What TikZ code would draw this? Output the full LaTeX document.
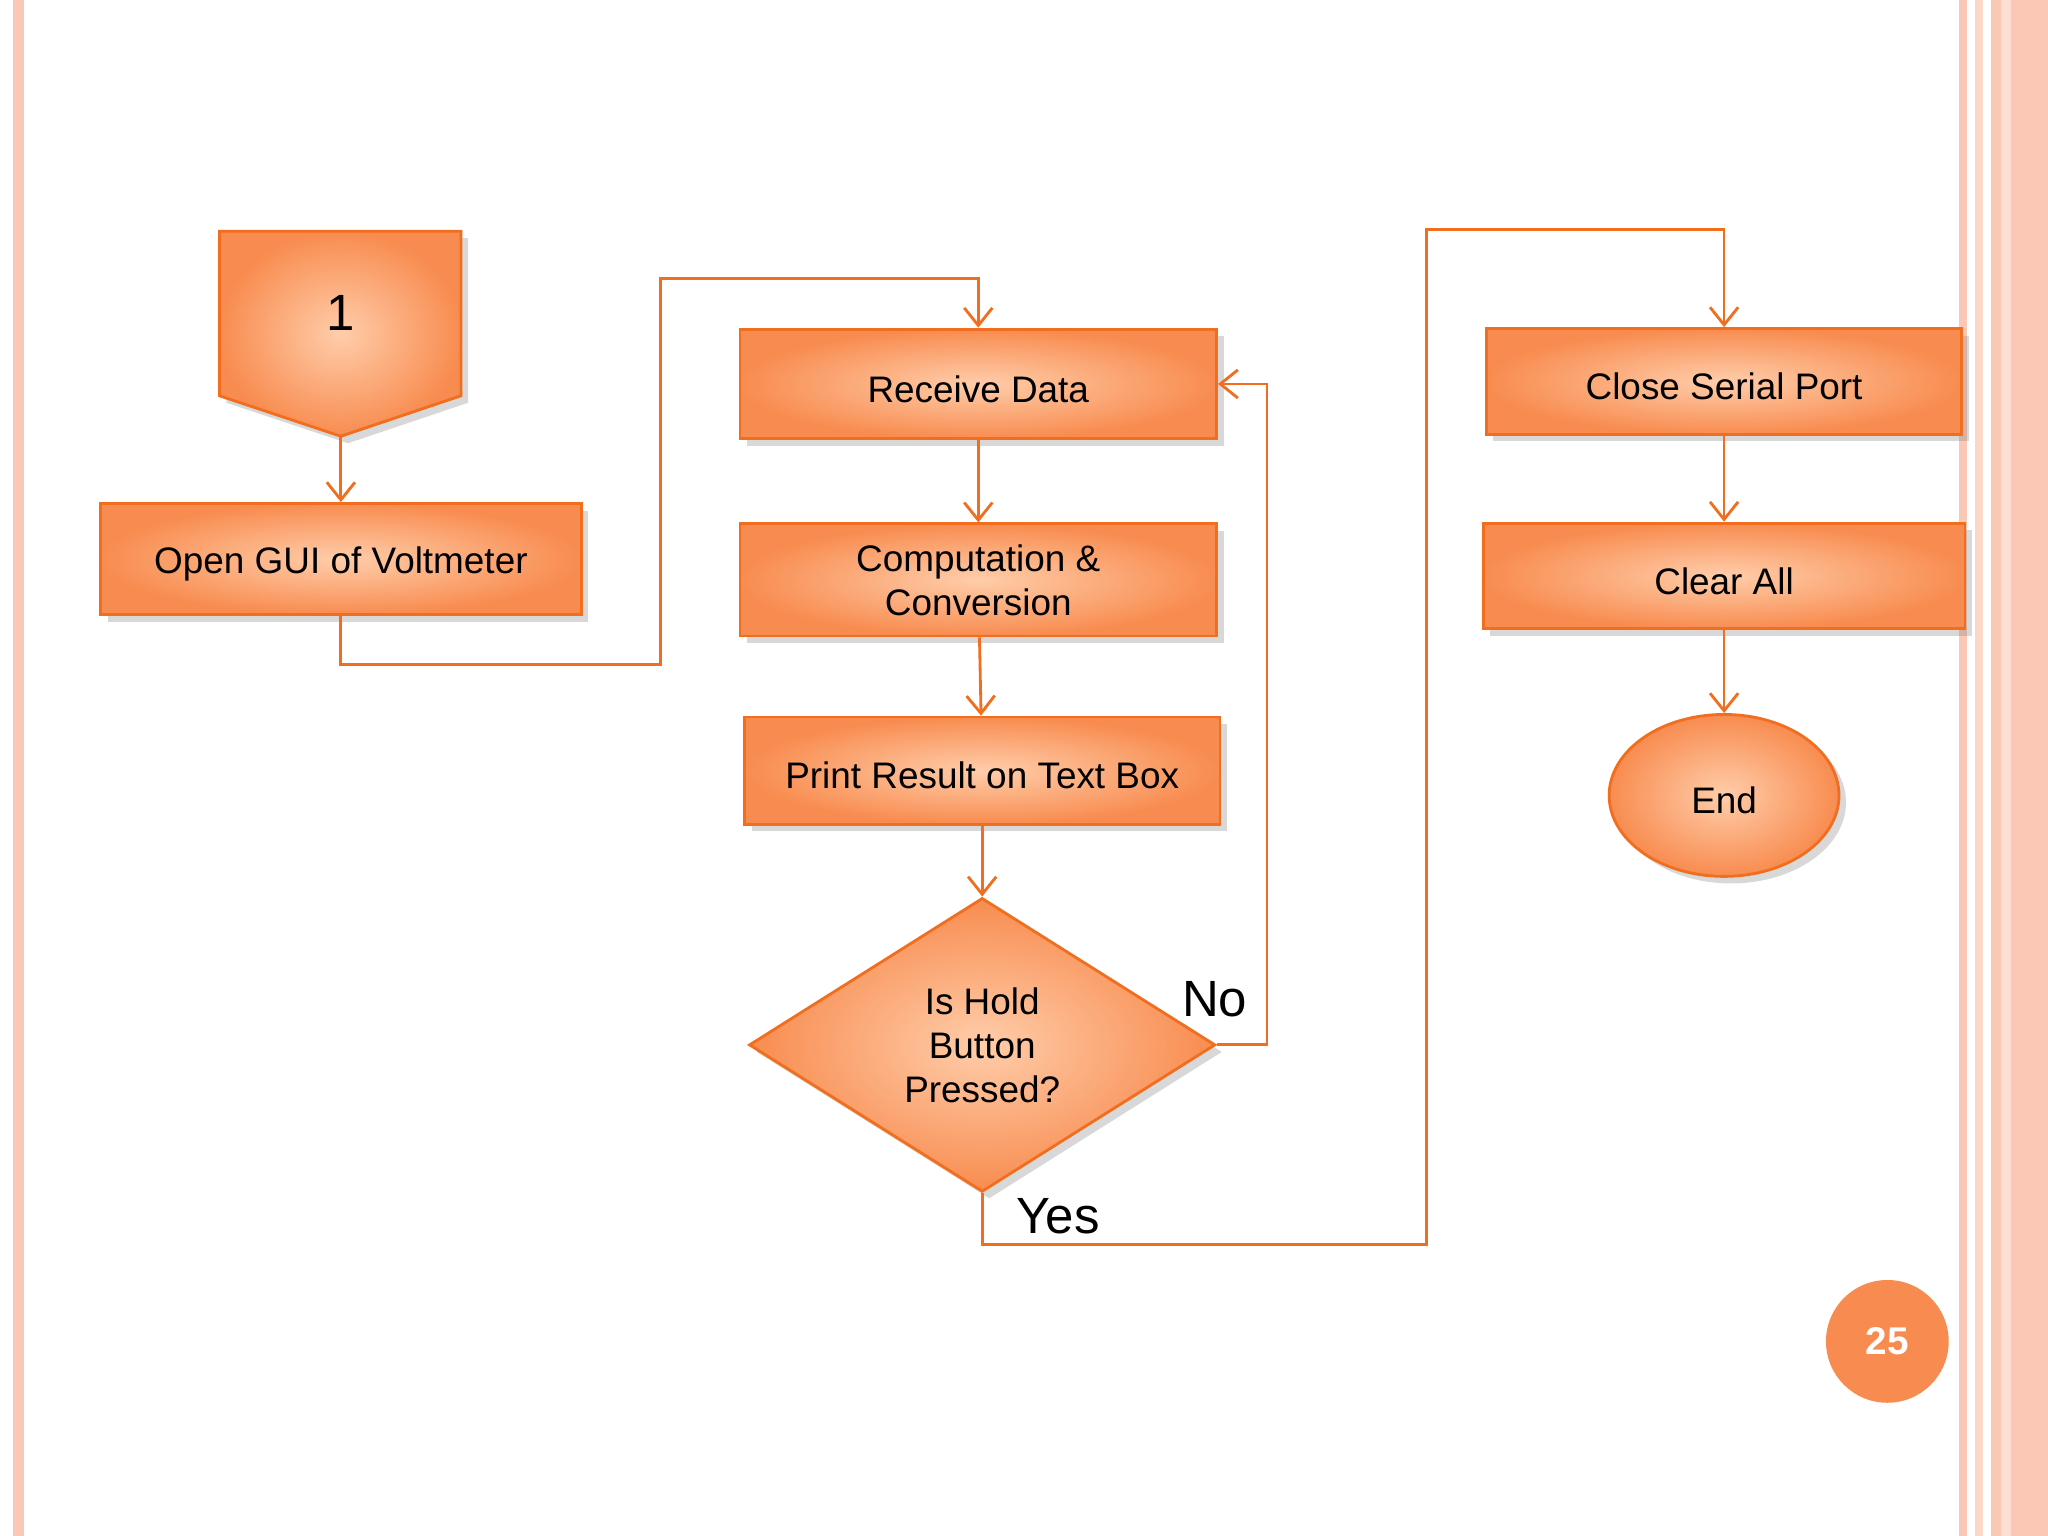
\documentclass[tikz,border=0pt]{standalone}
\usepackage{fontspec}
\setmainfont{Liberation Sans}
\usetikzlibrary{shapes.geometric,arrows.meta,positioning,shadows}
\definecolor{flowedge}{RGB}{240,110,30}
\definecolor{flowlight}{RGB}{255,205,170}
\definecolor{flowfill}{RGB}{248,140,80}
\definecolor{pageband}{RGB}{250,200,180}
\newcommand\pxl{0.013061cm}

\tikzset{
  flowbox/.style={rectangle, draw=flowedge, thick, inner color=flowlight, outer color=flowfill,
    drop shadow={opacity=0.3, shadow xshift=2pt, shadow yshift=-2pt},
    align=center, font=\fontsize{10.5}{12.5}\selectfont},
  flow/.style={draw=flowedge, thick, -{Straight Barb[length=5pt,width=8pt]}},
  tag/.style={font=\fontsize{14.5}{16}\selectfont}
}

\begin{document}
\begin{tikzpicture}[x=\pxl, y=-\pxl]
    \useasboundingbox (0,0) rectangle (1568,1176);
    \fill[white] (0,0) rectangle (1568,1176);

    % page borders
    \fill[pageband] (10,0) rectangle (18,1176);
    \fill[pageband] (1500,0) rectangle (1506,1176);
    \fill[pageband!70] (1512,0) rectangle (1518,1176);
    \fill[pageband] (1524,0) rectangle (1568,1176);
    \fill[pageband!60] (1532,0) rectangle (1540,1176);

    % off-page connector
    \path[draw=flowedge, thick, inner color=flowlight, outer color=flowfill,
      drop shadow={opacity=0.3, shadow xshift=2pt, shadow yshift=-2pt}]
      (168,177) -- (353,177) -- (353,303) -- (261,334) -- (168,303) -- cycle;
    \node[tag] (start) at (261,240) {1};
    \coordinate (startTip) at (261,334);

    % steps
    \node[flowbox, minimum width=368*\pxl, minimum height=85*\pxl] (gui) at (261,428) {\\[-2pt]Open GUI of Voltmeter};
    \node[flowbox, minimum width=365*\pxl, minimum height=84*\pxl] (recv) at (749,294) {\\[-2pt]Receive Data};
    \node[flowbox, minimum width=365*\pxl, minimum height=86*\pxl] (comp) at (749,444) {Computation \&\\Conversion};
    \node[flowbox, minimum width=364*\pxl, minimum height=82*\pxl] (print) at (752,590) {\\[-2pt]Print Result on Text Box};
    \node[flowbox, diamond, minimum width=357*\pxl, minimum height=225*\pxl, inner sep=0pt] (hold) at (752,800) {Is Hold\\Button\\Pressed?};
    \node[flowbox, minimum width=364*\pxl, minimum height=81*\pxl] (close) at (1320,292) {\\[-2pt]Close Serial Port};
    \node[flowbox, minimum width=369*\pxl, minimum height=81*\pxl] (clear) at (1320,441) {\\[-2pt]Clear All};
    \node[flowbox, ellipse, minimum width=176*\pxl, minimum height=124*\pxl] (end) at (1320,609) {\\[-2pt]End};

    % page number
    \node[circle, fill=flowfill, minimum size=94*\pxl, text=white, font=\bfseries\fontsize{11}{13}\selectfont] (page) at (1445,1027) {25};

    % connectors
    \draw[flow] (startTip) -- (gui);
    \draw[flow] (gui.south) |- (506,509) |- (749,213) -- (recv.north);
    \draw[flow] (recv) -- (comp);
    \draw[flow] (comp) -- (print);
    \draw[flow] (print) -- (hold.north);
    \draw[flow] (hold.east) -| (970,294) -- (recv.east);
    \draw[flow] (hold.south) |- (1092,953) |- (1320,176) -- (close.north);
    \draw[flow] (close) -- (clear);
    \draw[flow] (clear) -- (end);

    % labels
    \node[tag] (no) at (930,765) {No};
    \node[tag] (yes) at (810,931) {Yes};
\end{tikzpicture}
\end{document}
